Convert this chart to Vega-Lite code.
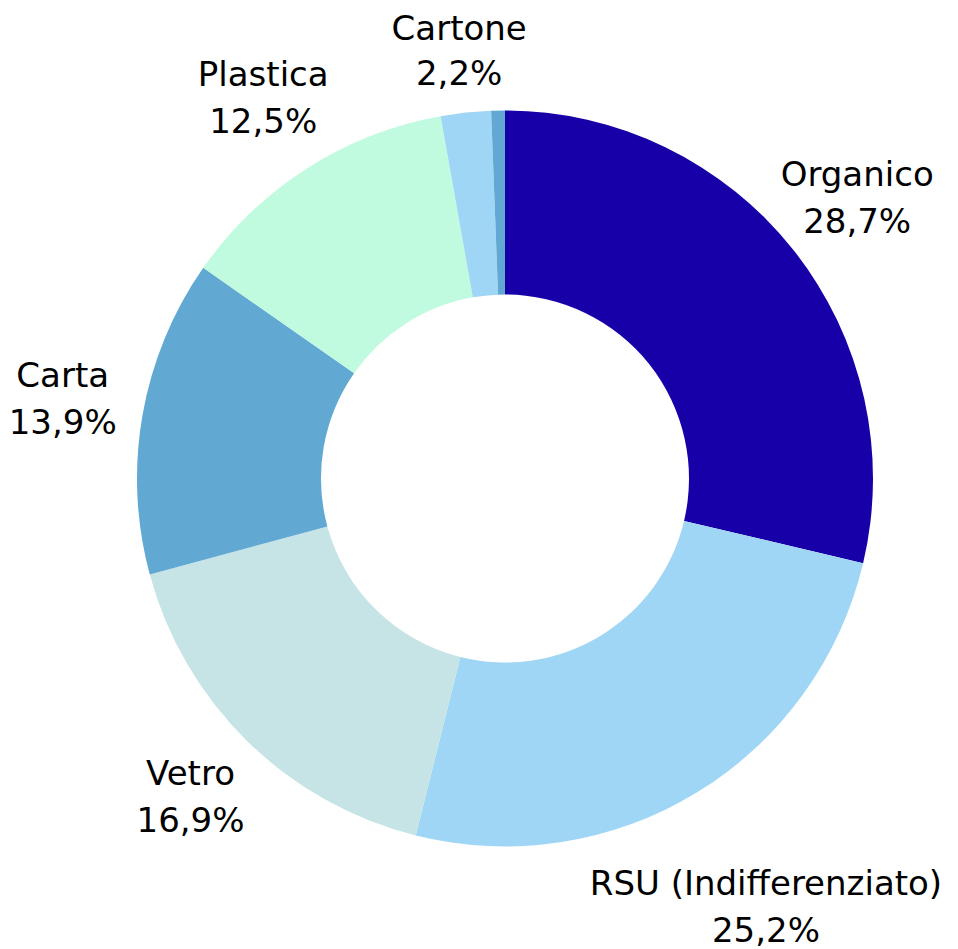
{
  "$schema": "https://vega.github.io/schema/vega-lite/v6.json",
  "width": 906,
  "height": 941,
  "autosize": {"type": "none"},
  "padding": {"left": 52, "top": 8, "right": 0, "bottom": 0},
  "background": "white",
  "config": {
    "view": {"stroke": null},
    "locale": {"number": {"decimal": ",", "thousands": ".", "grouping": [3], "currency": ["€", ""]}},
    "text": {"font": "DejaVu Sans", "fontSize": 34, "fill": "#000000"}
  },
  "data": {
    "values": [
      {"rank": 1, "name": "Organico", "pct": 0.287},
      {"rank": 2, "name": "RSU (Indifferenziato)", "pct": 0.252},
      {"rank": 3, "name": "Vetro", "pct": 0.169},
      {"rank": 4, "name": "Carta", "pct": 0.139},
      {"rank": 5, "name": "Plastica", "pct": 0.125},
      {"rank": 6, "name": "Cartone", "pct": 0.022},
      {"rank": 7, "name": "Altro", "pct": 0.006}
    ]
  },
  "encoding": {
    "theta": {"field": "pct", "type": "quantitative", "stack": true},
    "order": {"field": "rank", "type": "quantitative"}
  },
  "layer": [
    {
      "mark": {"type": "arc", "outerRadius": 368, "innerRadius": 184},
      "encoding": {
        "color": {
          "field": "name",
          "type": "nominal",
          "legend": null,
          "scale": {
            "domain": ["Organico", "RSU (Indifferenziato)", "Vetro", "Carta", "Plastica", "Cartone", "Altro"],
            "range": ["#1800a8", "#a0d6f5", "#c6e4e6", "#61a8d3", "#c0fbe0", "#a0d6f5", "#61a8d3"]
          }
        }
      }
    },
    {
      "mark": {"type": "text", "radius": 449, "dy": -24},
      "encoding": {
        "text": {"condition": {"test": "datum.name !== 'RSU (Indifferenziato)' && datum.name !== 'Cartone' && datum.name !== 'Altro'", "field": "name"}, "value": ""}
      }
    },
    {
      "mark": {"type": "text", "radius": 449, "dy": 23},
      "encoding": {
        "text": {"condition": {"test": "datum.name !== 'RSU (Indifferenziato)' && datum.name !== 'Cartone' && datum.name !== 'Altro'", "field": "pct", "type": "quantitative", "format": ".1%"}, "value": ""}
      }
    },
    {
      "mark": {"type": "text", "radius": 502, "dy": -22},
      "encoding": {
        "text": {"condition": {"test": "datum.name === 'RSU (Indifferenziato)'", "field": "name"}, "value": ""}
      }
    },
    {
      "mark": {"type": "text", "radius": 502, "dy": 25},
      "encoding": {
        "text": {"condition": {"test": "datum.name === 'RSU (Indifferenziato)'", "field": "pct", "type": "quantitative", "format": ".1%"}, "value": ""}
      }
    },
    {
      "mark": {"type": "text", "radius": 430, "dy": -21},
      "encoding": {
        "text": {"condition": {"test": "datum.name === 'Cartone'", "field": "name"}, "value": ""}
      }
    },
    {
      "mark": {"type": "text", "radius": 430, "dy": 24},
      "encoding": {
        "text": {"condition": {"test": "datum.name === 'Cartone'", "field": "pct", "type": "quantitative", "format": ".1%"}, "value": ""}
      }
    }
  ]
}
